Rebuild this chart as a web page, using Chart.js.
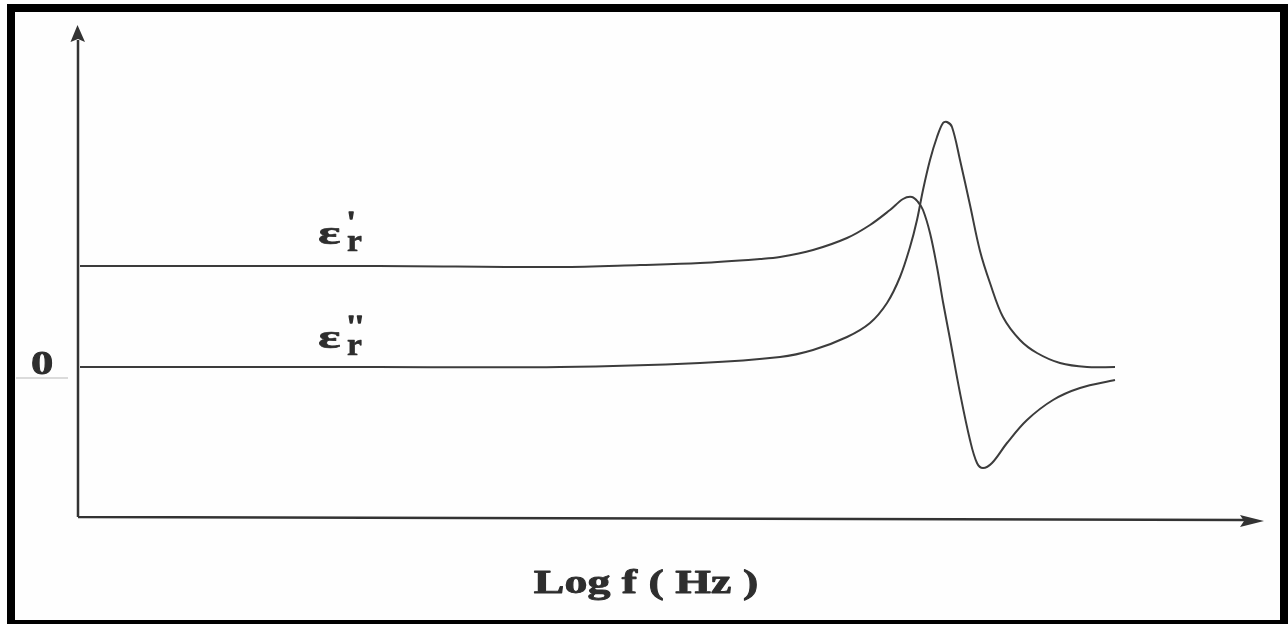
<!DOCTYPE html>
<html><head><meta charset="utf-8">
<script src="https://cdn.jsdelivr.net/npm/chart.js@4"></script>
<style>html,body{margin:0;padding:0;background:#fff;overflow:hidden;} canvas{display:block;}</style>
</head><body>
<canvas id="c" width="1288" height="624"></canvas>
<script>
// log f positions (arbitrary units) and relative permittivity values
const logFReal = [0.02, 3.00, 4.82, 5.62, 6.22, 6.82, 7.02, 7.35, 7.69, 7.92, 8.12, 8.25, 8.34, 8.40, 8.45, 8.52, 8.59, 8.65, 8.72, 8.82, 8.92, 8.99, 9.05, 9.14, 9.29, 9.49, 9.75, 10.02, 10.37];
const epsReal  = [1.01, 1.01, 1.00, 1.02, 1.04, 1.08, 1.10, 1.17, 1.29, 1.42, 1.57, 1.68, 1.70, 1.65, 1.57, 1.34, 1.00, 0.65, 0.28, -0.26, -0.73, -0.96, -1.01, -0.96, -0.76, -0.53, -0.33, -0.21, -0.13];
const logFImag = [0.02, 3.00, 4.82, 6.22, 7.02, 7.35, 7.69, 7.92, 8.09, 8.22, 8.32, 8.39, 8.45, 8.52, 8.59, 8.65, 8.69, 8.74, 8.82, 8.92, 9.02, 9.12, 9.25, 9.42, 9.59, 9.82, 10.09, 10.37];
const epsImag  = [0.00, 0.00, 0.00, 0.04, 0.10, 0.17, 0.30, 0.44, 0.64, 0.90, 1.20, 1.47, 1.77, 2.07, 2.30, 2.44, 2.45, 2.40, 2.07, 1.62, 1.16, 0.84, 0.50, 0.27, 0.14, 0.04, 0.00, 0.00];
const seriesNames = ["ε'r", "ε''r"];
const xAxisTitle = 'Log f ( Hz )';
const yZeroLabel = '0';

const toPts = (xs, ys) => xs.map((x, i) => ({x: x, y: ys[i]}));
const SERIF = '"Liberation Serif", "Times New Roman", Times, serif';

function stext(ctx, txt, x, y, font, sx, align, sw) {
  ctx.save();
  ctx.font = font;
  ctx.translate(x, y);
  ctx.scale(sx, 1);
  ctx.textAlign = align || 'left';
  ctx.textBaseline = 'alphabetic';
  ctx.fillText(txt, 0, 0);
  if (sw) {
    ctx.lineWidth = sw;
    ctx.strokeStyle = ctx.fillStyle;
    ctx.lineJoin = 'round';
    ctx.strokeText(txt, 0, 0);
  }
  ctx.restore();
}

const decor = {
  id: 'decor',
  beforeDraw(chart) {
    const ctx = chart.ctx;
    ctx.save();
    ctx.fillStyle = '#fefefe';
    ctx.fillRect(0, 0, chart.width, chart.height);
    ctx.restore();
  },
  afterDraw(chart) {
    const ctx = chart.ctx;
    const a = chart.chartArea;
    const xs = chart.scales.x, ys = chart.scales.y;
    ctx.save();
    // frame
    ctx.fillStyle = '#000';
    ctx.fillRect(7, 4, 1281, 8);
    ctx.fillRect(7, 4, 8, 620);
    ctx.fillRect(1280, 4, 8, 620);
    ctx.fillRect(7, 620, 1281, 4);
    // axes
    ctx.strokeStyle = '#333';
    ctx.fillStyle = '#333';
    ctx.lineWidth = 2.5;
    ctx.beginPath();
    ctx.moveTo(a.left, a.bottom);
    ctx.lineTo(a.left, a.top + 15);
    ctx.moveTo(a.left, a.bottom);
    ctx.lineTo(a.right - 20, a.bottom + 3);
    ctx.stroke();
    // y arrow
    ctx.beginPath();
    ctx.moveTo(a.left - 0.5, a.top);
    ctx.lineTo(a.left - 7.5, a.top + 17);
    ctx.lineTo(a.left + 0, a.top + 14);
    ctx.lineTo(a.left + 7, a.top + 17);
    ctx.closePath();
    ctx.fill();
    // x arrow
    ctx.beginPath();
    ctx.moveTo(a.right, a.bottom + 4);
    ctx.lineTo(a.right - 24, a.bottom - 2);
    ctx.lineTo(a.right - 20, a.bottom + 4);
    ctx.lineTo(a.right - 24, a.bottom + 10);
    ctx.closePath();
    ctx.fill();
    // texts
    ctx.fillStyle = '#2e2e2e';
    const y0 = ys.getPixelForValue(0);
    stext(ctx, yZeroLabel, 31, y0 + 7, 'bold 33px ' + SERIF, 1.35, 'left', 0.8);
    ctx.strokeStyle = '#b8b8b8';
    ctx.lineWidth = 1;
    ctx.beginPath(); ctx.moveTo(16, y0 + 11); ctx.lineTo(68, y0 + 11); ctx.stroke();
    // series labels
    const lx = xs.getPixelForValue(2.4);
    const labs = [{v: 1.23, p: "'"}, {v: 0.19, p: "''"}];
    labs.forEach((L, i) => {
      const by = ys.getPixelForValue(L.v);
      const name = seriesNames[i];
      stext(ctx, name.charAt(0), lx, by, 'bold 34px ' + SERIF, 1.55, 'left', 0.6);
      stext(ctx, 'r', lx + 29, by + 7, 'bold 32px ' + SERIF, 1.05, 'left', 0.6);
      stext(ctx, L.p, lx + 29, by - 13, 'bold 30px ' + SERIF, 1.0, 'left', 1.6);
    });
    // x title
    stext(ctx, xAxisTitle, 646, 593, 'bold 34px ' + SERIF, 1.35, 'center', 0.9);
    ctx.restore();
  }
};

new Chart(document.getElementById('c'), {
  type: 'line',
  data: {
    datasets: [
      {label: seriesNames[0], data: toPts(logFReal, epsReal), borderColor: '#3c3c3c', borderWidth: 2, pointRadius: 0, tension: 0.35, fill: false},
      {label: seriesNames[1], data: toPts(logFImag, epsImag), borderColor: '#3c3c3c', borderWidth: 2, pointRadius: 0, tension: 0.35, fill: false}
    ]
  },
  options: {
    responsive: false,
    animation: false,
    devicePixelRatio: 1,
    layout: {padding: {left: 78, right: 24, top: 25, bottom: 107}},
    scales: {
      x: {type: 'linear', min: 0, max: 11.86, display: false},
      y: {type: 'linear', min: -1.5, max: 3.42, display: false}
    },
    plugins: {legend: {display: false}, tooltip: {enabled: false}}
  },
  plugins: [decor]
});
</script>
</body></html>
